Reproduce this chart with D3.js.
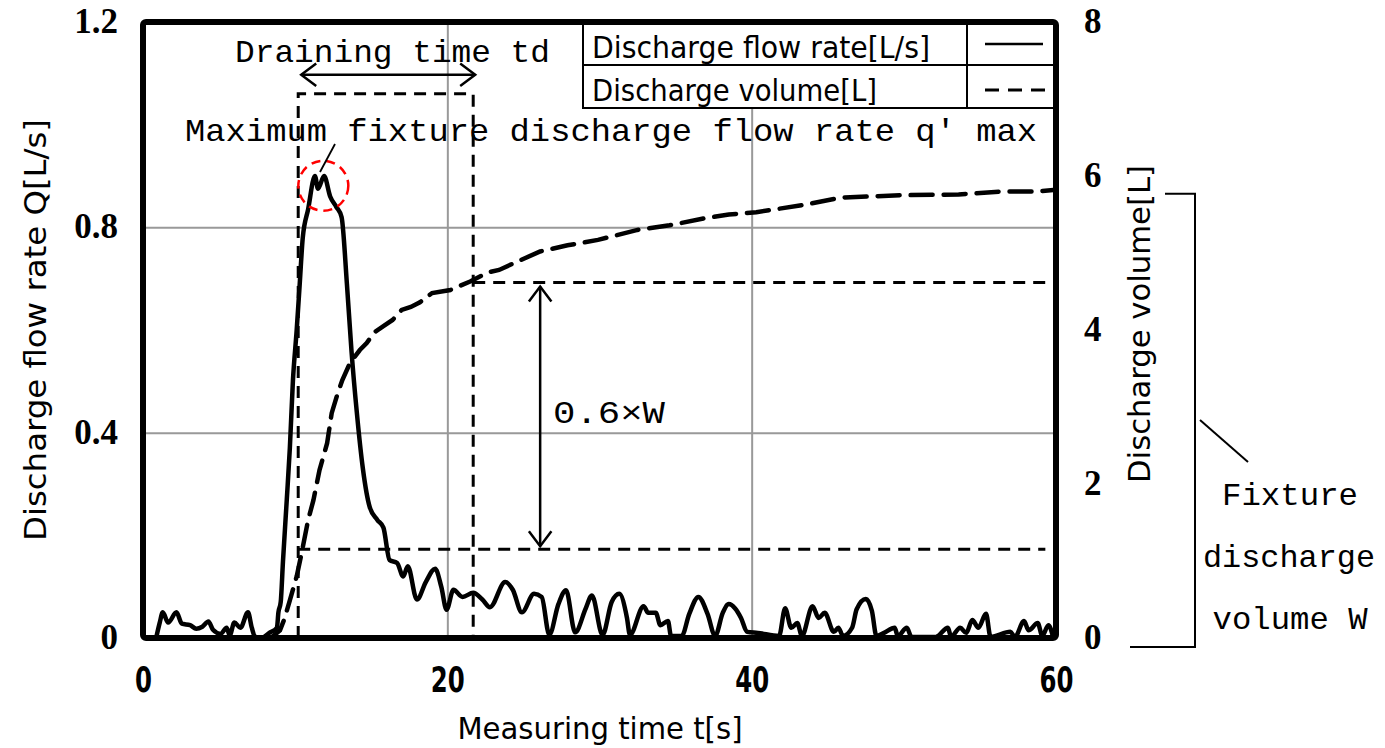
<!DOCTYPE html>
<html>
<head>
<meta charset="utf-8">
<script src="https://cdn.jsdelivr.net/npm/d3@7"></script>
<style>
  body { margin: 0; background: #fff; }
  svg { display: block; }
</style>
</head>
<body>
<svg id="chart" width="1385" height="748"></svg>
<script>
// flow rate Q [L/s]
const flowTime = [0.9, 1.1, 1.3, 1.65, 2.2, 2.55, 3.1, 3.5, 3.9, 4.3, 4.6, 5.1, 5.5, 5.7, 6.0, 6.4, 6.9, 7.15, 7.35, 7.8,
  8.3, 8.8, 8.9, 9.05, 9.2, 9.45, 9.65, 9.85, 10.1, 10.3, 10.5, 10.85, 11.3, 11.5, 11.9, 12.3, 12.7, 13.05, 13.4, 13.7,
  14.05, 14.45, 14.9, 15.4, 15.8, 16.2, 16.7, 17.1, 17.4, 18.0, 18.6, 19.2, 19.6, 19.95, 20.4, 21.0, 21.7, 22.3, 22.8, 23.8,
  24.3, 24.9, 25.7, 26.2, 26.7, 27.3, 27.8, 28.4, 29.1, 29.5, 30.2, 30.8, 31.3, 31.8, 32.0, 32.9, 33.2, 33.7, 34.0, 34.5,
  34.7, 35.4, 35.9, 36.5, 37.1, 37.6, 38.1, 38.5, 38.9, 39.3, 39.7, 40.4, 41.8, 42.2, 42.6, 43.0, 43.3, 44.0, 44.4, 44.8,
  45.4, 45.7, 46.0, 46.6, 46.9, 47.5, 47.9, 48.2, 48.7, 49.4, 49.6, 50.2, 50.5, 52.1, 52.9, 53.1, 53.7, 54.1, 54.5, 54.9,
  55.4, 55.7, 57.0, 57.3, 57.9, 58.2, 58.8, 59.1, 59.5, 59.8];
const flowRate = [0.005, 0.03, 0.05, 0.03, 0.05, 0.028, 0.025, 0.018, 0.022, 0.032, 0.016, 0.008, 0.02, 0.005, 0.03, 0.02, 0.05, 0.02, 0.003, 0.0,
  0.01, 0.02, 0.05, 0.07, 0.15, 0.27, 0.37, 0.5, 0.6, 0.69, 0.78, 0.835, 0.9, 0.875, 0.9, 0.86, 0.84, 0.82, 0.69, 0.56,
  0.44, 0.33, 0.255, 0.23, 0.215, 0.152, 0.146, 0.12, 0.14, 0.075, 0.11, 0.135, 0.1, 0.055, 0.094, 0.08, 0.088, 0.075, 0.06, 0.109,
  0.094, 0.05, 0.086, 0.08, 0.006, 0.066, 0.093, 0.011, 0.058, 0.083, 0.006, 0.07, 0.086, 0.04, 0.006, 0.062, 0.049, 0.049, 0.025, 0.033,
  0.004, 0.004, 0.047, 0.08, 0.047, 0.004, 0.049, 0.066, 0.058, 0.039, 0.012, 0.01, 0.004, 0.058, 0.02, 0.029, 0.004, 0.062, 0.039, 0.049,
  0.012, 0.02, 0.004, 0.02, 0.056, 0.076, 0.053, 0.004, 0.01, 0.02, 0.004, 0.02, 0.002, 0.002, 0.02, 0.002, 0.02, 0.01, 0.035, 0.02,
  0.047, 0.002, 0.012, 0.002, 0.033, 0.015, 0.029, 0.004, 0.025, 0.003];

// discharge volume [L]
const volTime = [8.4, 9.0, 9.3, 9.65, 10.1, 10.4, 10.85, 11.2, 11.6, 12.1, 12.4, 12.8, 13.1, 13.6, 14.25, 14.7, 15.2, 15.8, 16.4, 17.0,
  17.6, 18.2, 19.0, 20.2, 21.5, 22.7, 23.4, 24.5, 26.1, 27.9, 29.9, 32.5, 34.6, 36.9, 38.5, 40.3, 43.3, 45.9, 49.8, 53.6, 56.5, 58.8, 60];
const volume = [0, 0.1, 0.25, 0.49, 0.8, 1.08, 1.53, 1.79, 2.18, 2.53, 2.92, 3.18, 3.35, 3.57, 3.74, 3.83, 3.97, 4.05, 4.13, 4.26,
  4.3, 4.36, 4.48, 4.52, 4.63, 4.75, 4.78, 4.88, 5.02, 5.1, 5.17, 5.3, 5.36, 5.45, 5.5, 5.53, 5.62, 5.72, 5.75, 5.76, 5.8, 5.8, 5.82];

const xTicks = [0, 20, 40, 60];
const leftTicks = [0, 0.4, 0.8, 1.2];
const rightTicks = [0, 2, 4, 6, 8];

// annotation values
const drainStart = 10.2, drainEnd = 21.7;   // draining time td [s]
const boxTop = 1.06;                        // top of dashed box [L/s]
const W = 5.77;                             // fixture discharge volume [L]
const peak = { t: 11.85, q: 0.881 };        // q'max marker
const arrowT = 26.1;                        // 0.6W arrow position [s]

const svg = d3.select('#chart');
const pl = 143, pr = 1056, pt = 22, pb = 638;

const x = d3.scaleLinear().domain([0, 60]).range([pl, pr]);
const yL = d3.scaleLinear().domain([0, 1.2]).range([pb, pt]);
const yR = d3.scaleLinear().domain([0, 8]).range([pb, pt]);

const sans = "'Liberation Sans Narrow', 'DejaVu Sans Condensed', 'Liberation Sans', sans-serif";
const mono = "'Liberation Mono', 'DejaVu Sans Mono', monospace";
const serif = "'Liberation Serif', 'DejaVu Serif', serif";

// gridlines
svg.append('g')
  .attr('transform', 'translate(0,' + pb + ')')
  .call(d3.axisBottom(x).tickValues([20, 40]).tickSize(-(pb - pt)).tickFormat(''))
  .call(g => g.select('.domain').remove())
  .call(g => g.selectAll('line').attr('stroke', '#999').attr('stroke-width', 2));
svg.append('g')
  .attr('transform', 'translate(' + pl + ',0)')
  .call(d3.axisLeft(yL).tickValues([0.4, 0.8]).tickSize(-(pr - pl)).tickFormat(''))
  .call(g => g.select('.domain').remove())
  .call(g => g.selectAll('line').attr('stroke', '#999').attr('stroke-width', 2));

// tick labels
svg.append('g')
  .attr('transform', 'translate(' + (pl - 25) + ',0)')
  .call(d3.axisLeft(yL).tickValues(leftTicks).tickSize(0).tickFormat(d => d === 0 ? '0' : d.toFixed(1)))
  .call(g => g.select('.domain').remove())
  .call(g => g.selectAll('text').attr('font-family', serif).attr('font-weight', 'bold')
    .attr('font-size', 35).attr('fill', '#000').attr('dy', '0.3em').attr('x', 0));
svg.append('g')
  .attr('transform', 'translate(' + (pr + 28) + ',0)')
  .call(d3.axisRight(yR).tickValues(rightTicks).tickSize(0).tickFormat(d3.format('d')))
  .call(g => g.select('.domain').remove())
  .call(g => g.selectAll('text').attr('font-family', serif).attr('font-weight', 'bold')
    .attr('font-size', 35).attr('fill', '#000').attr('dy', '0.3em').attr('x', 0));
svg.append('g')
  .attr('transform', 'translate(0,' + (pb + 28) + ')')
  .call(d3.axisBottom(x).tickValues(xTicks).tickSize(0).tickFormat(d3.format('d')))
  .call(g => g.select('.domain').remove())
  .call(g => g.selectAll('text').attr('font-family', sans).attr('font-weight', 'bold')
    .attr('font-size', 36).attr('fill', '#000').attr('dy', '0.71em').attr('y', 0)
    .attr('textLength', d => String(d).length * 17).attr('lengthAdjust', 'spacingAndGlyphs'));

// axis titles
svg.append('text').attr('transform', 'translate(46,330) rotate(-90)')
  .attr('text-anchor', 'middle').attr('font-family', sans).attr('font-size', 31)
  .attr('textLength', 422).attr('lengthAdjust', 'spacingAndGlyphs')
  .text('Discharge flow rate Q[L/s]');
svg.append('text').attr('transform', 'translate(1150,324) rotate(-90)')
  .attr('text-anchor', 'middle').attr('font-family', sans).attr('font-size', 31)
  .attr('textLength', 318).attr('lengthAdjust', 'spacingAndGlyphs')
  .text('Discharge volume[L]');
svg.append('text').attr('x', 600).attr('y', 739)
  .attr('text-anchor', 'middle').attr('font-family', sans).attr('font-size', 31)
  .attr('textLength', 285).attr('lengthAdjust', 'spacingAndGlyphs')
  .text('Measuring time t[s]');

// curves
const flowLine = d3.line().x((d, i) => x(flowTime[i])).y(d => yL(d)).curve(d3.curveMonotoneX);
svg.append('path').datum(flowRate)
  .attr('d', flowLine).attr('fill', 'none').attr('stroke', '#000')
  .attr('stroke-width', 4.5).attr('stroke-linejoin', 'round').attr('stroke-linecap', 'round');

const volLine = d3.line().x((d, i) => x(volTime[i])).y(d => yR(d));
svg.append('path').datum(volume)
  .attr('d', volLine).attr('fill', 'none').attr('stroke', '#000')
  .attr('stroke-width', 4.5).attr('stroke-dasharray', '22,11').attr('stroke-linecap', 'round');

// annotations
const ann = svg.append('g').attr('fill', 'none').attr('stroke', '#000');
ann.append('path')
  .attr('d', 'M' + x(drainStart) + ',' + pb + 'V' + yL(boxTop) + 'H' + x(drainEnd) + 'V' + pb)
  .attr('stroke-width', 3).attr('stroke-dasharray', '12,8');
ann.append('line').attr('x1', x(drainStart)).attr('x2', x(59.3))
  .attr('y1', yR(0.2 * W)).attr('y2', yR(0.2 * W))
  .attr('stroke-width', 3).attr('stroke-dasharray', '12,8');
ann.append('line').attr('x1', x(drainEnd)).attr('x2', x(59.3))
  .attr('y1', yR(0.8 * W)).attr('y2', yR(0.8 * W))
  .attr('stroke-width', 3).attr('stroke-dasharray', '12,8');

function arrowHead(px, py, dx, dy) {
  const s = 15;
  const nx = -dy, ny = dx;
  return 'M' + (px - dx * s + nx * s * 0.75) + ',' + (py - dy * s + ny * s * 0.75) +
    'L' + px + ',' + py +
    'L' + (px - dx * s - nx * s * 0.75) + ',' + (py - dy * s - ny * s * 0.75);
}

// draining time arrow
const ay = yL(1.097);
const ax1 = x(drainStart) + 3, ax2 = x(drainEnd) + 2;
ann.append('line').attr('x1', ax1).attr('x2', ax2).attr('y1', ay).attr('y2', ay).attr('stroke-width', 2.5);
ann.append('path').attr('d', arrowHead(ax1, ay, -1, 0)).attr('stroke-width', 2.5);
ann.append('path').attr('d', arrowHead(ax2, ay, 1, 0)).attr('stroke-width', 2.5);

// 0.6W arrow
const vx = x(arrowT);
const vy1 = yR(0.8 * W) + 4, vy2 = yR(0.2 * W) - 3;
ann.append('line').attr('x1', vx).attr('x2', vx).attr('y1', vy1).attr('y2', vy2).attr('stroke-width', 2.5);
ann.append('path').attr('d', arrowHead(vx, vy1, 0, -1)).attr('stroke-width', 2.5);
ann.append('path').attr('d', arrowHead(vx, vy2, 0, 1)).attr('stroke-width', 2.5);

// q'max marker
ann.append('circle').attr('cx', x(peak.t)).attr('cy', yL(peak.q)).attr('r', 25)
  .attr('stroke', '#ff0000').attr('stroke-width', 2.5).attr('stroke-dasharray', '9,6');
ann.append('line').attr('x1', 320).attr('y1', 172).attr('x2', 335).attr('y2', 144).attr('stroke-width', 1.8);

// bracket for W
const bx = 1195;
ann.append('path')
  .attr('d', 'M1165,' + yR(W) + 'H' + bx + 'V' + (yR(0) + 9) + 'H1130')
  .attr('stroke-width', 2);
ann.append('line').attr('x1', 1200).attr('y1', 420).attr('x2', 1248).attr('y2', 462).attr('stroke-width', 2);

// annotation texts
const txt = svg.append('g').attr('font-family', mono).attr('fill', '#000');
txt.append('text').attr('x', 235).attr('y', 62).attr('font-size', 32)
  .attr('textLength', 315).attr('lengthAdjust', 'spacingAndGlyphs').text('Draining time td');
txt.append('text').attr('x', 185).attr('y', 141).attr('font-size', 32)
  .attr('textLength', 852).attr('lengthAdjust', 'spacingAndGlyphs').text('Maximum fixture discharge flow rate  q\u2032 max');
txt.append('text').attr('x', 553).attr('y', 423).attr('font-size', 32)
  .attr('textLength', 112).attr('lengthAdjust', 'spacingAndGlyphs').text('0.6\u00d7W');
txt.append('text').attr('x', 1290).attr('y', 505).attr('font-size', 32).attr('text-anchor', 'middle')
  .attr('textLength', 136).attr('lengthAdjust', 'spacingAndGlyphs').text('Fixture');
txt.append('text').attr('x', 1289).attr('y', 567).attr('font-size', 32).attr('text-anchor', 'middle')
  .attr('textLength', 172).attr('lengthAdjust', 'spacingAndGlyphs').text('discharge');
txt.append('text').attr('x', 1290).attr('y', 629).attr('font-size', 32).attr('text-anchor', 'middle')
  .attr('textLength', 155).attr('lengthAdjust', 'spacingAndGlyphs').text('volume W');

// legend
const lg = svg.append('g');
lg.append('rect').attr('x', 583).attr('y', pt).attr('width', pr - 583).attr('height', 86)
  .attr('fill', '#fff').attr('stroke', '#000').attr('stroke-width', 2);
lg.append('line').attr('x1', 583).attr('x2', pr).attr('y1', 65).attr('y2', 65).attr('stroke', '#000').attr('stroke-width', 2);
lg.append('line').attr('x1', 967).attr('x2', 967).attr('y1', pt).attr('y2', 108).attr('stroke', '#000').attr('stroke-width', 2);
lg.append('text').attr('x', 592).attr('y', 58).attr('font-family', sans).attr('font-size', 30)
  .attr('textLength', 338).attr('lengthAdjust', 'spacingAndGlyphs').text('Discharge flow rate[L/s]');
lg.append('text').attr('x', 592).attr('y', 101).attr('font-family', sans).attr('font-size', 30)
  .attr('textLength', 285).attr('lengthAdjust', 'spacingAndGlyphs').text('Discharge volume[L]');
lg.append('line').attr('x1', 985).attr('x2', 1043).attr('y1', 44).attr('y2', 44).attr('stroke', '#000').attr('stroke-width', 2.5);
lg.append('line').attr('x1', 985).attr('x2', 1045).attr('y1', 90).attr('y2', 90).attr('stroke', '#000').attr('stroke-width', 3)
  .attr('stroke-dasharray', '14,9');

// frame
svg.append('rect').attr('x', pl).attr('y', pt).attr('width', pr - pl).attr('height', pb - pt)
  .attr('fill', 'none').attr('stroke', '#000').attr('stroke-width', 6).attr('rx', 3);
</script>
</body>
</html>
